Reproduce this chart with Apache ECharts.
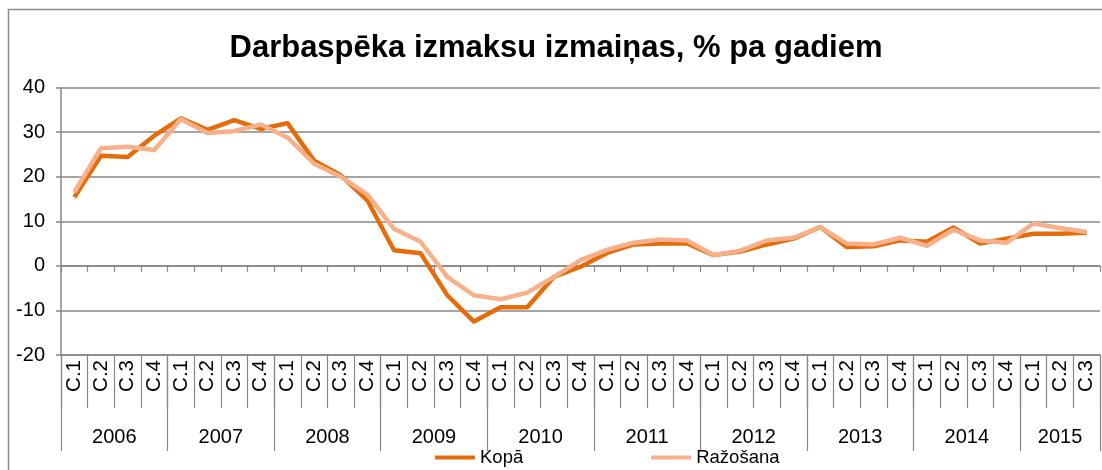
<!DOCTYPE html>
<html>
<head>
<meta charset="utf-8">
<script src="https://cdn.jsdelivr.net/npm/echarts@6/dist/echarts.min.js"></script>
<style>
html,body{margin:0;padding:0;background:#fff;}
#chart{width:1102px;height:470px;}
</style>
</head>
<body>
<div id="chart"></div>
<script>
const titleText = 'Darbaspēka izmaksu izmaiņas, % pa gadiem';
const categories = [
  'C.1','C.2','C.3','C.4', 'C.1','C.2','C.3','C.4', 'C.1','C.2','C.3','C.4',
  'C.1','C.2','C.3','C.4', 'C.1','C.2','C.3','C.4', 'C.1','C.2','C.3','C.4',
  'C.1','C.2','C.3','C.4', 'C.1','C.2','C.3','C.4', 'C.1','C.2','C.3','C.4',
  'C.1','C.2','C.3'
];
const years = ['2006','2007','2008','2009','2010','2011','2012','2013','2014','2015'];
const yearQuarterCounts = [4,4,4,4,4,4,4,4,4,3];
const kopa = [
  15.4, 24.7, 24.4, 29.2,
  33.1, 30.5, 32.7, 30.7,
  32.0, 23.6, 20.3, 14.7,
  3.5, 2.8, -6.6, -12.5,
  -9.3, -9.3, -2.5, -0.2,
  2.9, 4.8, 5.0, 5.0,
  2.4, 3.2, 4.8, 6.1,
  8.7, 4.2, 4.4, 5.7,
  5.4, 8.6, 5.0, 6.1,
  7.2, 7.2, 7.4
];
const razosana = [
  16.5, 26.4, 26.7, 26.0,
  32.9, 29.8, 30.2, 31.7,
  28.8, 22.9, 20.0, 16.0,
  8.3, 5.4, -2.5, -6.6,
  -7.5, -6.0, -2.5, 1.3,
  3.6, 5.2, 5.9, 5.7,
  2.4, 3.4, 5.7, 6.3,
  8.7, 5.0, 4.8, 6.3,
  4.5, 8.1, 5.7, 5.2,
  9.5, 8.5, 7.6
];
const seriesNames = ['Kopā', 'Ražošana'];

// year boundaries and centres (in category units)
const yearBounds = [0];
const yearCenters = [];
yearQuarterCounts.forEach(function (n) {
  const start = yearBounds[yearBounds.length - 1];
  yearCenters.push(start + n / 2);
  yearBounds.push(start + n);
});

const FONT = 'Liberation Sans, Arial, sans-serif';
const GRID_COLOR = '#878787';

const chart = echarts.init(document.getElementById('chart'), null, {renderer: 'canvas'});
chart.setOption({
  backgroundColor: '#fff',
  animation: false,
  title: {
    text: titleText,
    left: 556,
    top: 33,
    padding: 0,
    textAlign: 'center',
    textStyle: {fontFamily: FONT, fontSize: 31, fontWeight: 'bold', color: '#000'}
  },
  graphic: [{
    type: 'rect',
    shape: {x: 8.5, y: 9.5, width: 1100, height: 470},
    style: {fill: 'none', stroke: '#8c8c8c', lineWidth: 1.5},
    silent: true
  }],
  legend: {
    data: seriesNames,
    left: 435,
    top: 448,
    padding: 0,
    icon: 'rect',
    itemWidth: 40,
    itemHeight: 4,
    itemGap: 128,
    textStyle: {fontFamily: FONT, fontSize: 18.5, color: '#000'}
  },
  grid: {left: 61, right: 2, top: 87.5, bottom: 115, containLabel: false},
  xAxis: [
    {
      type: 'category',
      data: categories,
      position: 'bottom',
      boundaryGap: true,
      axisLine: {onZero: false, lineStyle: {color: GRID_COLOR, width: 1.5}},
      axisTick: {show: true, interval: 0, length: 53, lineStyle: {color: GRID_COLOR, width: 1.2}},
      axisLabel: {interval: 0, rotate: 90, margin: 5, fontFamily: FONT, fontSize: 20.5, color: '#000'},
      splitLine: {show: false}
    },
    {
      type: 'category',
      data: categories,
      position: 'bottom',
      boundaryGap: true,
      axisLine: {onZero: true, lineStyle: {color: GRID_COLOR, width: 1.5}},
      axisTick: {show: true, interval: 0, length: 6, lineStyle: {color: GRID_COLOR, width: 1.2}},
      axisLabel: {show: false},
      splitLine: {show: false}
    },
    {
      type: 'value',
      position: 'bottom',
      min: 0,
      max: yearBounds[yearBounds.length - 1],
      axisLine: {show: false, onZero: false},
      axisTick: {show: true, customValues: yearBounds, length: 96, lineStyle: {color: GRID_COLOR, width: 1.2}},
      axisLabel: {
        show: true,
        customValues: yearCenters,
        margin: 72,
        fontFamily: FONT, fontSize: 20, color: '#000',
        formatter: function (v) {
          const i = yearCenters.findIndex(function (c) { return Math.abs(c - v) < 1e-6; });
          return i >= 0 ? years[i] : '';
        }
      },
      splitLine: {show: false}
    }
  ],
  yAxis: {
    type: 'value',
    min: -20,
    max: 40,
    interval: 10,
    axisLine: {show: true, onZero: false, lineStyle: {color: GRID_COLOR, width: 1.5}},
    axisTick: {show: true, length: 5, lineStyle: {color: GRID_COLOR, width: 1.5}},
    axisLabel: {margin: 16, fontFamily: FONT, fontSize: 20, color: '#000'},
    splitLine: {show: true, lineStyle: {color: GRID_COLOR, width: 1.5}}
  },
  series: [
    {
      name: seriesNames[0],
      type: 'line',
      xAxisIndex: 0,
      data: kopa,
      showSymbol: false,
      symbol: 'none',
      color: '#E46C0A',
      lineStyle: {color: '#E46C0A', width: 4.5, join: 'round'}
    },
    {
      name: seriesNames[1],
      type: 'line',
      xAxisIndex: 0,
      data: razosana,
      showSymbol: false,
      symbol: 'none',
      color: '#F7B08A',
      lineStyle: {color: '#F7B08A', width: 4.5, join: 'round'}
    }
  ]
});
</script>
</body>
</html>
